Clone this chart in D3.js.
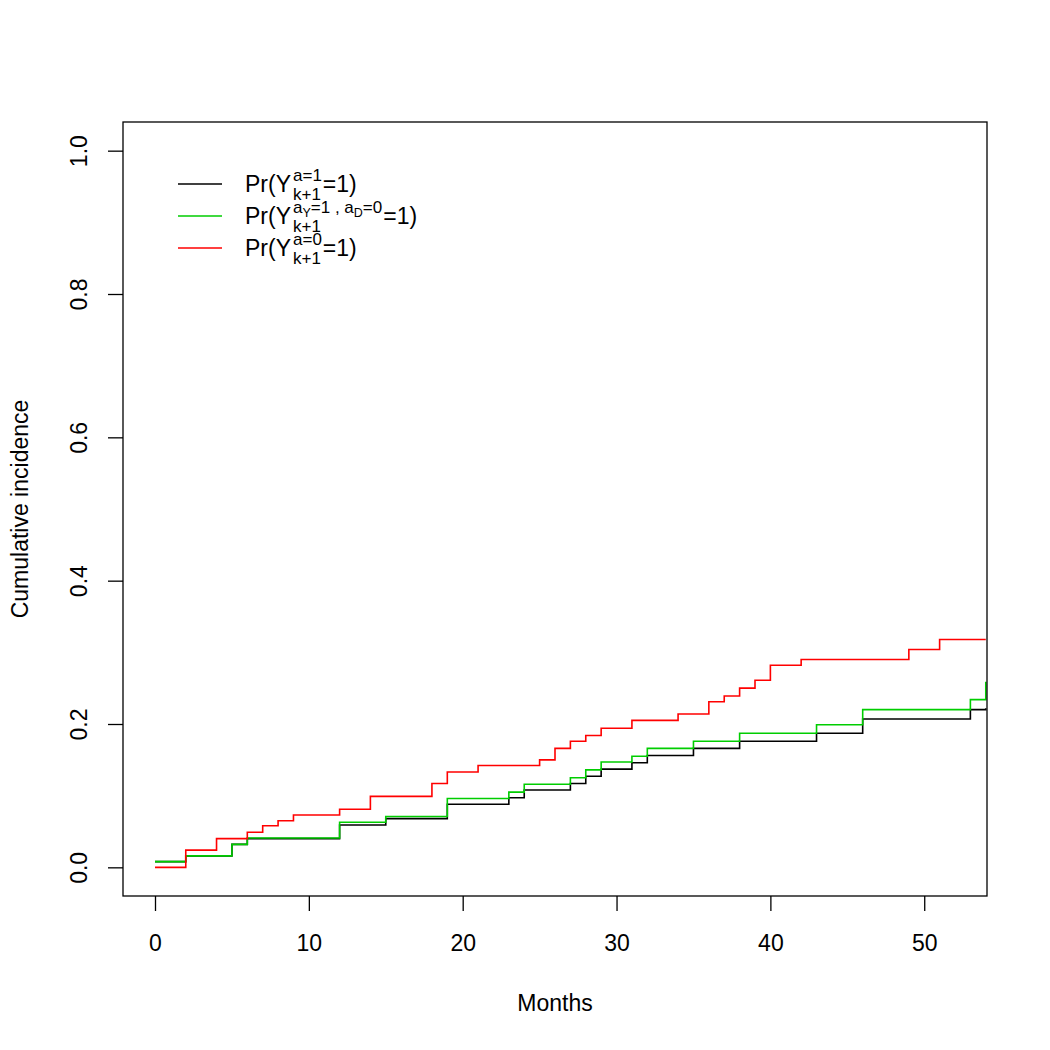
<!DOCTYPE html>
<html>
<head>
<meta charset="utf-8">
<script src="https://cdn.jsdelivr.net/npm/d3@7"></script>
<style>
  body { margin: 0; background: #fff; }
  text { font-family: "Liberation Sans", Arial, Helvetica, sans-serif; fill: #000; }
</style>
</head>
<body>
<div id="chart"></div>
<script>
// step data (value after the jump at that month)
var blackMonths = [0, 2, 5, 6, 12, 15, 19, 23, 24, 27, 28, 29, 31, 32, 35, 38, 43, 46, 53, 54];
var blackValues = [0.008, 0.016, 0.032, 0.040, 0.059, 0.068, 0.088, 0.097, 0.108, 0.117, 0.127, 0.137, 0.146, 0.156, 0.166, 0.176, 0.187, 0.207, 0.220, 0.222];

var greenMonths = [0, 2, 5, 6, 12, 15, 19, 23, 24, 27, 28, 29, 31, 32, 35, 38, 43, 46, 53, 54];
var greenValues = [0.008, 0.016, 0.032, 0.041, 0.063, 0.071, 0.096, 0.105, 0.116, 0.125, 0.136, 0.147, 0.155, 0.166, 0.176, 0.187, 0.199, 0.220, 0.234, 0.259];

var redMonths = [0, 2, 4, 6, 7, 8, 9, 12, 14, 18, 19, 21, 25, 26, 27, 28, 29, 31, 34, 36, 37, 38, 39, 40, 42, 49, 51, 54];
var redValues = [0.000, 0.024, 0.040, 0.049, 0.058, 0.065, 0.073, 0.081, 0.099, 0.117, 0.133, 0.142, 0.150, 0.166, 0.176, 0.184, 0.194, 0.205, 0.214, 0.231, 0.239, 0.250, 0.261, 0.282, 0.290, 0.304, 0.318, 0.318];

var xTicks = [0, 10, 20, 30, 40, 50];
var yTicks = [0, 0.2, 0.4, 0.6, 0.8, 1.0];

var svgWidth = 1050;
var svgHeight = 1050;

var margin = { top: 122, right: 63, bottom: 154, left: 123 };
var width = svgWidth - margin.left - margin.right;
var height = svgHeight - margin.top - margin.bottom;

var svg = d3.select("#chart")
  .append("svg")
  .attr("width", svgWidth)
  .attr("height", svgHeight);

var chartGroup = svg.append("g")
  .attr("transform", `translate(${margin.left}, ${margin.top})`);

// R style 4% extension of the axis ranges
var xLinearScale = d3.scaleLinear()
  .domain([0 - 52 * 0.04, 52 + 52 * 0.04])
  .range([0, width]);

var yLinearScale = d3.scaleLinear()
  .domain([-0.04, 1.04])
  .range([height, 0]);

// clip
chartGroup.append("clipPath")
  .attr("id", "plotClip")
  .append("rect")
  .attr("width", width)
  .attr("height", height);

var fontSize = 23;

// x axis
var bottomAxis = d3.axisBottom(xLinearScale)
  .tickValues(xTicks)
  .tickSize(15)
  .tickSizeOuter(0)
  .tickFormat(d3.format("d"));

var xAxis = chartGroup.append("g")
  .attr("transform", `translate(0, ${height})`)
  .call(bottomAxis);
xAxis.select(".domain").remove();
xAxis.selectAll("line").attr("stroke", "#000").attr("stroke-width", 1.3);
xAxis.selectAll("text")
  .attr("y", 55)
  .attr("dy", 0)
  .attr("font-size", fontSize)
  .attr("font-family", "Liberation Sans, Arial, sans-serif");

// y axis
var leftAxis = d3.axisLeft(yLinearScale)
  .tickValues(yTicks)
  .tickSize(15)
  .tickSizeOuter(0)
  .tickFormat(d3.format(".1f"));

var yAxis = chartGroup.append("g")
  .call(leftAxis);
yAxis.select(".domain").remove();
yAxis.selectAll("line").attr("stroke", "#000").attr("stroke-width", 1.3);
yAxis.selectAll("text")
  .attr("x", null)
  .attr("dy", 0)
  .attr("text-anchor", "middle")
  .attr("transform", "translate(-36, 0) rotate(-90)")
  .attr("font-size", fontSize)
  .attr("font-family", "Liberation Sans, Arial, sans-serif");

// lines
var lineGen = d3.line()
  .curve(d3.curveStepAfter)
  .x(d => xLinearScale(d[0]))
  .y(d => yLinearScale(d[1]));

var series = [
  { months: blackMonths, values: blackValues, color: "#000000" },
  { months: greenMonths, values: greenValues, color: "#00CD00" },
  { months: redMonths, values: redValues, color: "#FF0000" }
];

series.forEach(function(s) {
  var pts = s.months.map((m, i) => [m, s.values[i]]);
  chartGroup.append("path")
    .datum(pts)
    .attr("clip-path", "url(#plotClip)")
    .attr("fill", "none")
    .attr("stroke", s.color)
    .attr("stroke-width", 1.6)
    .attr("d", lineGen);
});

// box
chartGroup.append("rect")
  .attr("width", width)
  .attr("height", height)
  .attr("fill", "none")
  .attr("stroke", "#000")
  .attr("stroke-width", 1.3);

// axis titles
svg.append("text")
  .attr("x", margin.left + width / 2)
  .attr("y", 1011)
  .attr("text-anchor", "middle")
  .attr("font-size", fontSize)
  .text("Months");

svg.append("text")
  .attr("transform", `translate(28, ${margin.top + height / 2}) rotate(-90)`)
  .attr("text-anchor", "middle")
  .attr("font-size", fontSize)
  .text("Cumulative incidence");

// legend with plotmath-like labels
var legendGroup = svg.append("g");
var legendRows = [
  { color: "#000000", sup: [["a=1", 0]] },
  { color: "#00CD00", sup: [["a", 0], ["Y", 1], ["=1 , a", 0], ["D", 1], ["=0", 0]] },
  { color: "#FF0000", sup: [["a=0", 0]] }
];

var scriptSize = 17;
var scriptScriptSize = 12.5;

legendRows.forEach(function(row, i) {
  var ly = 184 + i * 32;
  legendGroup.append("line")
    .attr("x1", 178).attr("x2", 222)
    .attr("y1", ly).attr("y2", ly)
    .attr("stroke", row.color)
    .attr("stroke-width", 1.6);

  var base = ly + 8;
  var x = 245;
  var t = legendGroup.append("text")
    .attr("x", x).attr("y", base)
    .attr("font-size", fontSize)
    .text("Pr(Y");
  x += t.node().getComputedTextLength() + 2;

  // superscript
  var sx = x;
  row.sup.forEach(function(p) {
    var size = p[1] ? scriptScriptSize : scriptSize;
    var yy = p[1] ? base - 7 : base - 11;
    var st = legendGroup.append("text")
      .attr("x", sx).attr("y", yy)
      .attr("font-size", size)
      .text(p[0]);
    sx += st.node().getComputedTextLength();
  });

  // subscript
  var sub = legendGroup.append("text")
    .attr("x", x).attr("y", base + 7.5)
    .attr("font-size", scriptSize)
    .text("k+1");
  var subEnd = x + sub.node().getComputedTextLength();

  legendGroup.append("text")
    .attr("x", Math.max(sx, subEnd) + 1)
    .attr("y", base)
    .attr("font-size", fontSize)
    .text("=1)");
});
</script>
</body>
</html>
